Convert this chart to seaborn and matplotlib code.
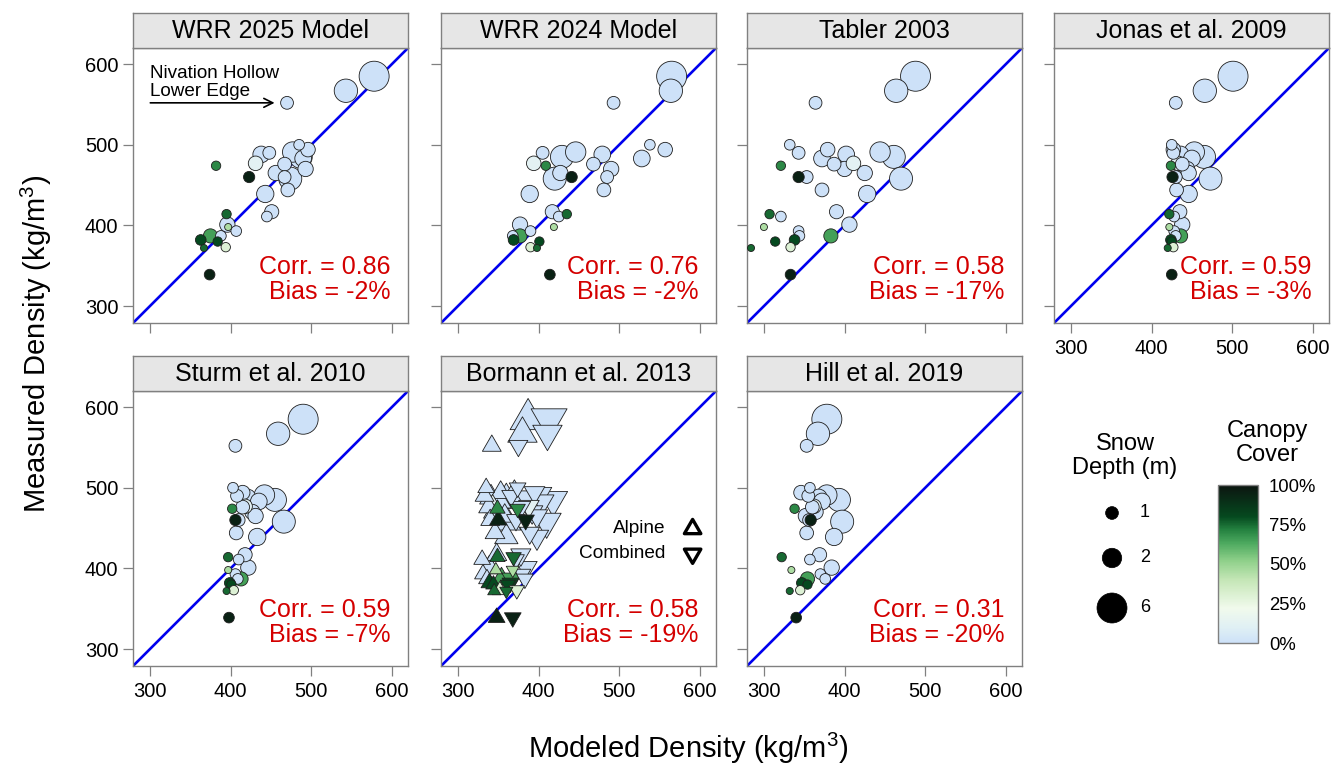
import numpy as np
import pandas as pd
import matplotlib
matplotlib.use("Agg")
import matplotlib.pyplot as plt
import seaborn as sns
from matplotlib.colors import LinearSegmentedColormap, Normalize
from matplotlib.cm import ScalarMappable
from matplotlib.path import Path

sns.set_style("ticks")
plt.rcParams["font.family"] = ["Liberation Sans", "DejaVu Sans"]
plt.rcParams["mathtext.fontset"] = "custom"
plt.rcParams["mathtext.rm"] = "Liberation Sans"
plt.rcParams["text.color"] = "black"

# ---- site observations -------------------------------------------------
measured = [585, 567, 552, 500, 494, 491, 485, 488, 476, 470, 465, 458, 474, 460,
            460, 444, 439, 417, 401, 414, 411, 398, 393, 387, 387, 382, 380, 372,
            373, 339, 477, 483, 490]
snow_depth = [6.0, 3.0, 1.0, 0.8, 1.2, 2.2, 2.9, 1.5, 1.1, 1.3, 1.3, 2.9, 0.7, 0.85,
              1.0, 1.1, 1.6, 1.15, 1.3, 0.7, 0.8, 0.55, 0.8, 0.8, 1.15, 0.8, 0.7, 0.55,
              0.7, 0.8, 1.2, 1.5, 1.0]
canopy = [0, 0, 0, 0, 0, 0, 0, 0, 0, 0, 0, 0, 70, 95,
          0, 0, 0, 0, 0, 75, 0, 45, 0, 0, 65, 80, 80, 75,
          30, 95, 12, 0, 0]

# ---- modeled densities ---------------------------------------------------
wrr2025 = [578, 543, 470, 485, 496, 477, 487, 438, 467, 493, 456, 474, 382, 423,
           467, 471, 443, 451, 396, 395, 445, 397, 407, 388, 375, 363, 384, 367,
           394, 374, 431, 490, 448]
wrr2024 = [565, 564, 493, 538, 557, 446, 429, 479, 468, 490, 427, 420, 409, 441,
           485, 481, 389, 417, 377, 435, 425, 419, 390, 368, 377, 369, 401, 398,
           390, 414, 394, 528, 405]
tabler2003 = [488, 464, 364, 332, 379, 444, 461, 402, 387, 400, 425, 470, 321, 343,
              353, 372, 428, 390, 406, 307, 321, 300, 343, 344, 383, 338, 314, 284,
              333, 333, 411, 372, 343]
jonas2009 = [501, 466, 430, 425, 427, 453, 465, 436, 438, 444, 446, 473, 424, 426,
             430, 431, 446, 435, 438, 422, 428, 422, 428, 430, 436, 424, 425, 420,
             427, 425, 433, 450, 427]
sturm2010 = [490, 459, 406, 403, 415, 442, 455, 421, 415, 427, 431, 466, 402, 406,
             410, 407, 433, 418, 422, 397, 410, 397, 406, 409, 413, 399, 401, 395,
             404, 398, 418, 435, 408]
bormann_alpine = [387, 380, 342, 335, 353, 370, 360, 341, 338, 345, 358, 360, 349, 350,
                  340, 346, 360, 348, 339, 349, 330, 347, 331, 336, 354, 339, 344, 345,
                  352, 348, 343, 352, 333]
bormann_combined = [413, 411, 375, 374, 395, 400, 418, 385, 378, 392, 398, 410, 374, 384,
                    372, 389, 398, 378, 385, 369, 372, 368, 380, 383, 367, 365, 362, 360,
                    373, 368, 388, 405, 366]
hill2019 = [378, 367, 353, 357, 346, 378, 393, 368, 360, 364, 352, 397, 338, 358,
            356, 353, 387, 369, 384, 322, 357, 334, 370, 376, 354, 347, 354, 332,
            345, 340, 362, 372, 355]

panel_titles = ["WRR 2025 Model", "WRR 2024 Model", "Tabler 2003", "Jonas et al. 2009",
                "Sturm et al. 2010", "Bormann et al. 2013", "Hill et al. 2019"]
corr_values = [0.86, 0.76, 0.58, 0.59, 0.59, 0.58, 0.31]
bias_values = [-2, -2, -17, -3, -7, -19, -20]
tick_values = [300, 400, 500, 600]
legend_depths = [1, 2, 6]
canopy_ticks = [0, 25, 50, 75, 100]

# ---- styling helpers ----------------------------------------------------
canopy_cmap = LinearSegmentedColormap.from_list(
    "canopy",
    [(0.0, "#cde1f8"), (0.10, "#e0f0f4"), (0.22, "#f1faec"), (0.40, "#c4e6b6"),
     (0.52, "#8fd08a"), (0.63, "#4eaa60"), (0.72, "#23803f"), (0.80, "#05491f"),
     (1.0, "#0c1510")])


def circle_px(d):
    """Circle diameter (px) from snow depth (m)."""
    return 12.8 + 9.6 * np.log(np.maximum(np.asarray(d, float), 0.4))


def circle_area(d):
    return (circle_px(d) * 0.72) ** 2


def triangle_area(d):
    # triangles run a few pixels wider than circles; path width is 0.866 of size
    return ((circle_px(d) + 6.0) / 0.866 * 0.72) ** 2


up_tri = Path([(0, 0.577), (-0.5, -0.289), (0.5, -0.289), (0, 0.577)],
              [Path.MOVETO, Path.LINETO, Path.LINETO, Path.CLOSEPOLY])
down_tri = Path([(0, -0.577), (-0.5, 0.289), (0.5, 0.289), (0, -0.577)],
                [Path.MOVETO, Path.LINETO, Path.LINETO, Path.CLOSEPOLY])

sites = pd.DataFrame({"measured": measured, "depth": snow_depth, "canopy": canopy})

model_series = [wrr2025, wrr2024, tabler2003, jonas2009, sturm2010, None, hill2019]

frames = []
for title, mod in zip(panel_titles, model_series):
    if mod is None:
        a = sites.assign(modeled=bormann_alpine, kind="Alpine",
                         area=triangle_area(sites["depth"]))
        c = sites.assign(modeled=bormann_combined, kind="Combined",
                         area=triangle_area(sites["depth"]))
        f = pd.concat([a, c])
    else:
        f = sites.assign(modeled=mod, kind="Site", area=circle_area(sites["depth"]))
    f["panel"] = title
    frames.append(f)
data = pd.concat(frames, ignore_index=True)
amin, amax = data["area"].min(), data["area"].max()

# ---- layout (pixel boxes) ----------------------------------------------
W, H = 1335, 764
fig = plt.figure(figsize=(W / 100, H / 100), dpi=100)


def px_axes(x0, y0, w, h):
    return fig.add_axes([x0 / W, 1 - (y0 + h) / H, w / W, h / H])


col_left = [133, 441, 747, 1054]
row_top = [48, 391]
PW, PH, STRIP = 275, 275, 35
lims = (279, 620)
frame_col = "#808080"
positions = [(0, 0), (0, 1), (0, 2), (0, 3), (1, 0), (1, 1), (1, 2)]

for i, title in enumerate(panel_titles):
    r, c = positions[i]
    ax = px_axes(col_left[c], row_top[r], PW, PH)
    ax.plot(lims, lims, color="#0000ee", lw=1.9, zorder=1)
    df = data[data["panel"] == title].sort_values("area", ascending=False, kind="stable")
    kw = dict(data=df, x="modeled", y="measured", hue="canopy", palette=canopy_cmap,
              hue_norm=(0, 100), size="area", sizes=(amin, amax), size_norm=(amin, amax),
              edgecolor="#1e1e1e", linewidth=0.6, legend=False, ax=ax, zorder=3)
    if title.startswith("Bormann"):
        sns.scatterplot(style="kind", markers={"Alpine": up_tri, "Combined": down_tri}, **kw)
    else:
        sns.scatterplot(**kw)

    ax.set_xlim(lims)
    ax.set_ylim(lims)
    ax.set_xlabel("")
    ax.set_ylabel("")
    ax.set_xticks(tick_values)
    ax.set_yticks(tick_values)
    ax.tick_params(direction="out", length=7.5, width=0.9, color=frame_col,
                   labelsize=14.5, pad=3, labelcolor="black")
    ax.tick_params(axis="x", pad=4)
    ax.tick_params(labelleft=(c == 0), labelbottom=(r == 1 or c == 3))
    for sp in ax.spines.values():
        sp.set_color(frame_col)
        sp.set_linewidth(1.0)
        sp.set_visible(True)

    ax.text(598, 348, f"Corr. = {corr_values[i]:.2f}", ha="right", va="center",
            color="#d40000", fontsize=18)
    ax.text(598, 317, f"Bias = {bias_values[i]}%", ha="right", va="center",
            color="#d40000", fontsize=18)

    # strip header
    sax = px_axes(col_left[c], row_top[r] - STRIP, PW, STRIP)
    sax.set_facecolor("#e6e6e6")
    sax.set_xticks([])
    sax.set_yticks([])
    for sp in sax.spines.values():
        sp.set_color(frame_col)
        sp.set_linewidth(1.0)
    sax.text(0.5, 0.48, title, ha="center", va="center", fontsize=18, color="black",
             transform=sax.transAxes)

    if i == 0:
        ax.text(300, 588, "Nivation Hollow", ha="left", va="center", fontsize=13.6)
        ax.text(300, 566, "Lower Edge", ha="left", va="center", fontsize=13.6)
        ax.annotate("", xy=(458, 552), xytext=(297, 552),
                    arrowprops=dict(arrowstyle="->", color="black", lw=1.2,
                                    mutation_scale=16))
    if title.startswith("Bormann"):
        for lab, yv, mk in [("Alpine", 449, up_tri), ("Combined", 418, down_tri)]:
            ax.scatter([591], [yv], marker=mk, s=(19 * 0.72) ** 2, facecolor="none",
                       edgecolor="black", linewidth=2.4, zorder=4)
            ax.text(557, yv, lab, ha="right", va="center", fontsize=13.7)

# ---- axis titles --------------------------------------------------------
fig.text(36 / W, 1 - 344 / H, r"Measured Density (kg/m$^{\mathrm{3}}$)", rotation=90,
         ha="center", va="center", fontsize=21, color="black")
fig.text(688 / W, 6 / H, r"Modeled Density (kg/m$^{\mathrm{3}}$)", ha="center",
         va="baseline", fontsize=21, color="black")

# ---- snow depth legend --------------------------------------------------
lax = px_axes(1040, 400, 180, 260)
lax.set_xlim(1040, 1220)
lax.set_ylim(660, 400)
lax.axis("off")
lax.scatter([1112] * 3, [513, 558, 608], s=circle_area(legend_depths), color="black",
            edgecolor="black", linewidth=0.5)
for yv, d in zip([513, 558, 608], legend_depths):
    lax.text(1140, yv, str(d), ha="left", va="center", fontsize=13)
lax.text(1125, 456, "Snow\nDepth (m)", ha="center", va="center", fontsize=17,
         linespacing=1.15)

# ---- canopy colourbar ---------------------------------------------------
cax = px_axes(1218, 485, 40, 158)
cb = fig.colorbar(ScalarMappable(norm=Normalize(0, 100), cmap=canopy_cmap), cax=cax,
                  ticks=canopy_ticks)
cb.set_ticklabels([f"{t}%" for t in canopy_ticks])
cax.tick_params(length=0, labelsize=13.3, pad=8, labelcolor="black")
cb.outline.set_edgecolor(frame_col)
cb.outline.set_linewidth(1.0)
fig.text(1267 / W, 1 - 443 / H, "Canopy\nCover", ha="center", va="center",
         fontsize=17, linespacing=1.1)

fig.savefig("out.png", dpi=100)
